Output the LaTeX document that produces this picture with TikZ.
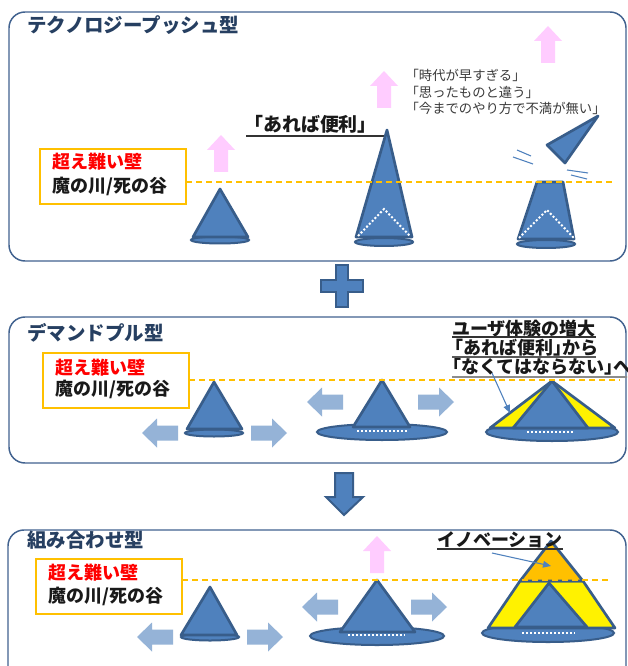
\documentclass[tikz,border=0pt]{standalone}
\usepackage{fontspec}
\newfontfamily\jpfont{Noto Sans CJK JP}
\newfontfamily\jpnarrow[RawFeature=+halt]{Noto Sans CJK JP}
\usetikzlibrary{arrows.meta}

\definecolor{coneblue}{HTML}{4F81BD}
\definecolor{conedark}{HTML}{385D8A}
\definecolor{panelline}{HTML}{41628F}
\definecolor{titleblue}{HTML}{263F61}
\definecolor{pinkfill}{HTML}{FFCCFF}
\definecolor{lightarrow}{HTML}{95B3D7}
\definecolor{wallgold}{HTML}{FFC000}
\definecolor{remarkgray}{HTML}{3A3A3A}

\tikzset{
  panel/.style={draw=panelline, line width=1.1pt, rounded corners=12pt},
  jp/.style={anchor=west, inner sep=0pt, text height=0.88em, text depth=0.12em},
  paneltitle/.style={jp, text=titleblue, font=\jpfont\bfseries\fontsize{14.6}{16}\selectfont},
  wallframe/.style={draw=wallgold, fill=white, line width=1.2pt},
  walltop/.style={jp, text=red, font=\jpfont\bfseries\fontsize{13.5}{15}\selectfont},
  wallbottom/.style={jp, text=black!90, font=\jpfont\bfseries\fontsize{13.5}{15}\selectfont},
  caption/.style={jp, text=black!90, font=\jpfont\bfseries\fontsize{13.5}{15}\selectfont},
  narrowcaption/.style={jp, text=black!90, font=\jpnarrow\bfseries\fontsize{13.5}{15}\selectfont},
  remark/.style={jp, text=remarkgray, font=\jpnarrow\fontsize{10}{12}\selectfont},
  rule/.style={draw=black!80, line width=1.1pt},
  limitline/.style={draw=wallgold, line width=1pt, dash pattern=on 4.5pt off 3pt},
  conebody/.style={fill=coneblue, draw=conedark, line width=2pt, line join=round},
  brim/.style={fill=coneblue, draw=conedark, line width=1.5pt},
  seam/.style={draw=white, line width=1.5pt, dash pattern=on 1.5pt off 1.5pt},
  speedline/.style={draw=coneblue, line width=0.8pt},
  pointer/.style={draw=coneblue, line width=0.8pt, -{Triangle[length=6pt,width=5pt]}},
  pinkup/.pic={\fill[pinkfill] (0,0) -- (14,15) -- (7,15) -- (7,37) -- (-7,37) -- (-7,15) -- (-14,15) -- cycle;},
  leftarr/.pic={\fill[lightarrow] (0,0) -- (15,-14.5) -- (15,-7.5) -- (36,-7.5) -- (36,7.5) -- (15,7.5) -- (15,14.5) -- cycle;},
  rightarr/.pic={\fill[lightarrow] (0,0) -- (-15,-14.5) -- (-15,-7.5) -- (-36,-7.5) -- (-36,7.5) -- (-15,7.5) -- (-15,14.5) -- cycle;},
}

\begin{document}
\begin{tikzpicture}[x=0.75pt, y=-0.75pt]
\useasboundingbox (0,0) rectangle (627,666);
\clip (0,0) rectangle (627,666);
\fill[white] (0,0) rectangle (627,666);

% ---------- technology push ----------
\draw[panel] (9,12) rectangle (626,261);
\node[paneltitle] (t1) at (27,27) {テクノロジープッシュ型};
\draw[wallframe] (40,149) rectangle (186,204);
\node[walltop] (w1a) at (52,163) {超え難い壁};
\node[wallbottom] (w1b) at (52,187) {魔の川/死の谷};

% small cone
\draw[brim] (220,240) ellipse [x radius=29, y radius=3.5];
\draw[conebody] (220,189) -- (193,237) -- (248,237) -- cycle;
\pic at (221,135) {pinkup};

% tall cone
\node[caption, font=\jpfont\bfseries\fontsize{14.2}{16}\selectfont] (handy1) at (244,126) {「あれば便利」};
\draw[rule] (246,136) -- (384,136);
\draw[brim] (384,242) ellipse [x radius=29, y radius=4];
\draw[conebody] (387,130) -- (356,237) -- (412,237) -- cycle;
\draw[seam] (358,236) -- (384,209) -- (410,236);
\pic at (384,71) {pinkup};

% broken cone
\pic at (548,26) {pinkup};
\node[remark] (r1) at (412,75) {「時代が早すぎる」};
\node[remark] (r2) at (412,92) {「思ったものと違う」};
\node[remark] (r3) at (412,108) {「今までのやり方で不満が無い」};
\draw[brim] (546,244) ellipse [x radius=29, y radius=4];
\draw[conebody] (537,182) -- (563,182) -- (574,239) -- (518,239) -- cycle;
\draw[seam] (519,238) -- (547,210) -- (574,238);
\draw[conebody] (547,145) -- (598,116) -- (565,163) -- cycle;
\draw[speedline] (517,150) -- (531,156);
\draw[speedline] (513,157) -- (533,164);
\draw[speedline] (567,170) -- (588,173);
\draw[speedline] (571,175) -- (587,179);
\draw[limitline] (186,182) -- (612,182);

% plus sign
\draw[fill=coneblue, draw=conedark, line width=1.5pt]
  (336,265) -- (348,265) -- (348,280) -- (363,280) -- (363,292) -- (348,292)
  -- (348,307) -- (336,307) -- (336,292) -- (321,292) -- (321,280) -- (336,280) -- cycle;

% ---------- demand pull ----------
\draw[panel] (9,317) rectangle (626,463);
\node[paneltitle] (t2) at (27,335) {デマンドプル型};
\draw[wallframe] (43,353) rectangle (189,408);
\node[walltop] (w2a) at (55,369) {超え難い壁};
\node[wallbottom] (w2b) at (55,390) {魔の川/死の谷};

\draw[brim] (214,433) ellipse [x radius=29, y radius=3.5];
\draw[conebody] (214,382) -- (187,429) -- (242,429) -- cycle;
\pic at (142,433) {leftarr};
\pic at (287,433) {rightarr};

\draw[brim] (382,432) ellipse [x radius=65, y radius=8];
\draw[conebody] (382,380) -- (353,427) -- (410,427) -- cycle;
\draw[seam] (357,431) -- (408,431);
\pic at (307,402) {leftarr};
\pic at (454,402) {rightarr};

\draw[brim] (552,432) ellipse [x radius=66, y radius=9];
\draw[conebody, fill=yellow] (552,381) -- (490,428) -- (615,428) -- cycle;
\draw[conebody] (552,381) -- (513,428) -- (588,428) -- cycle;
\draw[seam] (527,432) -- (573,432);
\draw[limitline] (189,380) -- (620,380);

\node[narrowcaption] (ux1) at (452,330) {ユーザ体験の増大};
\node[narrowcaption] (ux2) at (454,349) {「あれば便利」から};
\node[narrowcaption] (ux3) at (452,368) {「なくてはならない」へ};
\draw[rule] (452,337) -- (596,337);
\draw[rule, draw=black!65] (452,357) -- (596,357);
\draw[rule, draw=black!45] (452,377) -- (630,377);
\coordinate (uxFrom) at (492,373);
\coordinate (uxTo) at (510,413);
\draw[pointer] (uxFrom) -- (uxTo);

% down arrow
\draw[fill=coneblue, draw=conedark, line width=1.5pt]
  (335,473) -- (353,473) -- (353,497) -- (363,497) -- (344,515) -- (326,497) -- (335,497) -- cycle;

% ---------- combined ----------
\draw[panel] (8,530) rectangle (626,720);
\node[paneltitle] (t3) at (27,542) {組み合わせ型};
\draw[wallframe] (36,559) rectangle (182,614);
\node[walltop] (w3a) at (48,574) {超え難い壁};
\node[wallbottom] (w3b) at (48,597) {魔の川/死の谷};

\draw[brim] (210,637) ellipse [x radius=29, y radius=3.5];
\draw[conebody] (210,587) -- (181,635) -- (237,635) -- cycle;
\pic at (137,637) {leftarr};
\pic at (283,637) {rightarr};

\draw[brim] (377,636) ellipse [x radius=67, y radius=9];
\draw[conebody] (377,580) -- (340,632) -- (415,632) -- cycle;
\draw[seam] (348,635) -- (405,635);
\pic at (377,536) {pinkup};
\pic at (302,607) {leftarr};
\pic at (447,607) {rightarr};

\draw[brim] (548,633) ellipse [x radius=66, y radius=9];
\draw[conebody, fill=yellow] (488,628) -- (615,628) -- (583,581) -- (520,581) -- cycle;
\draw[conebody, fill=wallgold] (551,541) -- (520,581) -- (583,581) -- cycle;
\draw[conebody] (549,583) -- (515,627) -- (587,627) -- cycle;
\draw[seam] (522,633) -- (575,633);
\draw[limitline] (182,580) -- (612,580);

\node[caption] (inno) at (437,541) {イノベーション};
\draw[rule] (437,549) -- (563,549);
\coordinate (innoFrom) at (492,553);
\coordinate (innoTo) at (551,566);
\draw[pointer] (innoFrom) -- (innoTo);
\end{tikzpicture}
\end{document}
